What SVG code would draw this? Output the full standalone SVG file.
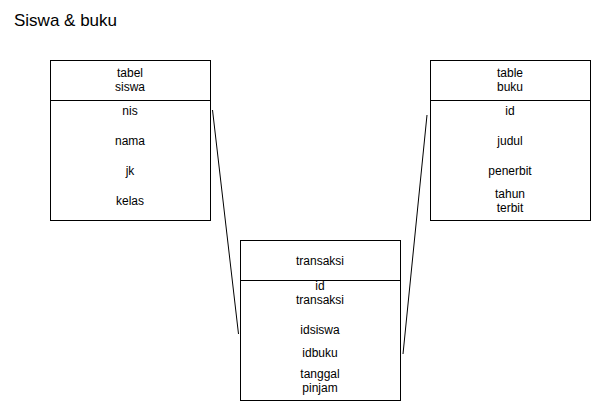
<svg xmlns="http://www.w3.org/2000/svg" width="592" height="401" viewBox="0 0 592 401">
<style>
.box{fill:#fff;stroke:#000;stroke-width:1}
.t{font-family:"Liberation Sans",Arial,sans-serif;font-size:12px;fill:#000;text-anchor:middle}
.title{font-family:"Liberation Sans",Arial,sans-serif;font-size:17px;fill:#000}
.c{stroke:#000;stroke-width:1;fill:none}
</style>
<rect width="592" height="401" fill="#fff"/>
<text class="title" x="14" y="26">Siswa &amp; buku</text>
<g id="connectors">
<line class="c" x1="212.5" y1="110" x2="238.5" y2="334"/>
<line class="c" x1="427" y1="115" x2="403" y2="354"/>
</g>
<g id="siswa">
<rect class="box" x="50.5" y="60.5" width="160" height="160"/>
<line class="c" x1="50.5" y1="100.5" x2="210.5" y2="100.5"/>
<text class="t" x="130" y="77">tabel</text>
<text class="t" x="130" y="91">siswa</text>
<text class="t" x="130" y="115">nis</text>
<text class="t" x="130" y="145">nama</text>
<text class="t" x="130" y="175">jk</text>
<text class="t" x="130" y="205">kelas</text>
</g>
<g id="buku">
<rect class="box" x="430.5" y="60.5" width="160" height="160"/>
<line class="c" x1="430.5" y1="100.5" x2="590.5" y2="100.5"/>
<text class="t" x="510" y="77">table</text>
<text class="t" x="510" y="91">buku</text>
<text class="t" x="510" y="115">id</text>
<text class="t" x="510" y="145">judul</text>
<text class="t" x="510" y="175">penerbit</text>
<text class="t" x="510" y="198">tahun</text>
<text class="t" x="510" y="212">terbit</text>
</g>
<g id="transaksi">
<rect class="box" x="240.5" y="240.5" width="160" height="160"/>
<line class="c" x1="240.5" y1="280.5" x2="400.5" y2="280.5"/>
<text class="t" x="320" y="265">transaksi</text>
<text class="t" x="320" y="290">id</text>
<text class="t" x="320" y="304">transaksi</text>
<text class="t" x="320" y="334">idsiswa</text>
<text class="t" x="320" y="357">idbuku</text>
<text class="t" x="320" y="378">tanggal</text>
<text class="t" x="320" y="392">pinjam</text>
</g>
</svg>
